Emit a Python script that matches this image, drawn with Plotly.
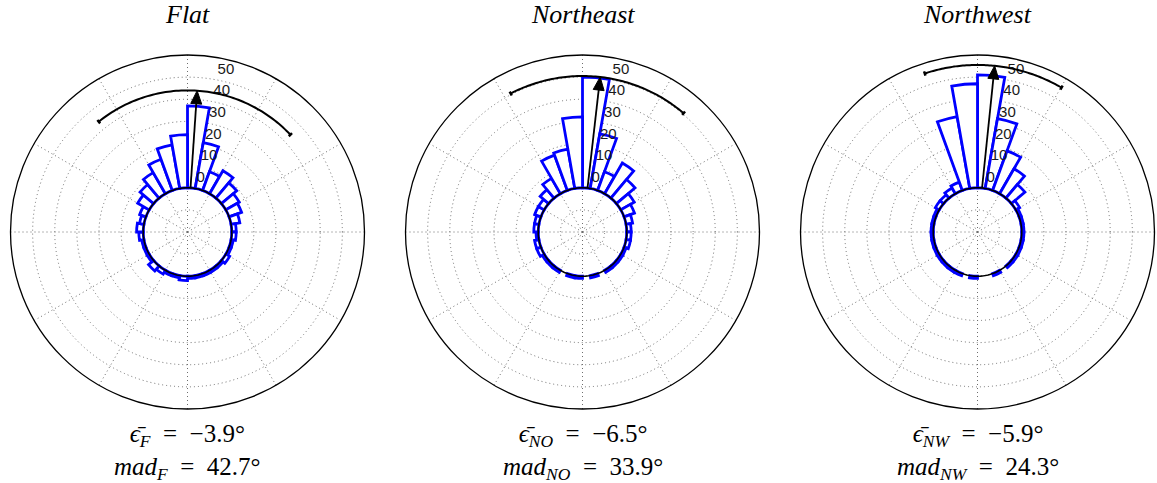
import math
import plotly.graph_objects as go

# ---------------- data ----------------
bin_centers = [5 + 10 * i for i in range(36)]  # compass degrees, clockwise from north
bin_width = 10

flat_counts = [37, 21, 9, 12, 9, 7, 6, 4, 2, 2, 1, 1, 2, 1, 1, 1, 1, 1,
               2, 1, 1, 2, 3, 1, 1, 1, 2, 3, 2, 3, 6, 8, 11, 15, 20, 24]
northeast_counts = [50, 25, 9, 16, 11, 7, 5, 3, 2, 2, 2, 1, 1, 1, 1, 0, 1, 0,
                    1, 1, 0, 1, 1, 1, 2, 2, 1, 2, 2, 3, 3, 5, 8, 17, 18, 32]
northwest_counts = [51, 32, 19, 13, 8, 2, 1, 1, 1, 1, 1, 1, 1, 1, 0, 1, 0, 0,
                    1, 0, 1, 1, 1, 1, 1, 1, 1, 1, 1, 1, 2, 2, 3, 4, 33, 47]

panel_titles = ["Flat", "Northeast", "Northwest"]
panel_subs = ["F", "NO", "NW"]
mean_error = [-3.9, -6.5, -5.9]      # degrees
mad_error = [42.7, 33.9, 24.3]       # degrees
arrow_length = [44, 50.5, 55.5]      # radial units

radial_tick_values = [0, 10, 20, 30, 40, 50]
radial_tick_text = ["0", "10", "20", "30", "40", "50"]

all_counts = [flat_counts, northeast_counts, northwest_counts]

# ---------------- layout geometry ----------------
W, H = 1157, 483
centers_x = [187.5, 582.5, 977.5]
center_y = 232
R = 177
R_MIN, R_MAX = -20, 60
px_per_unit = R / (R_MAX - R_MIN)
zero_px = -R_MIN * px_per_unit

fig = go.Figure()
blue = "#0000ff"
grid_col = "#6e6e6e"
serif = "Liberation Serif, Times New Roman, serif"
sp_eq = "\u2002=\u2002"

for k in range(3):
    sp = "polar" if k == 0 else f"polar{k+1}"
    counts = all_counts[k]
    theta_mean = -mean_error[k]   # plotted clockwise
    L = arrow_length[k]

    # inner zero circle
    circ_theta = list(range(0, 361, 2))
    fig.add_trace(go.Scatterpolar(
        r=[0] * len(circ_theta), theta=circ_theta, mode="lines",
        line=dict(color="black", width=1.6), subplot=sp, showlegend=False,
        hoverinfo="skip"))

    # rose bars
    fig.add_trace(go.Barpolar(
        r=counts, theta=bin_centers, width=[bin_width] * len(bin_centers),
        base=0, subplot=sp, showlegend=False,
        marker=dict(color="white", line=dict(color=blue, width=2.8))))

    # radial tick labels
    fig.add_trace(go.Scatterpolar(
        r=[v + 1.2 for v in radial_tick_values], theta=[11] * len(radial_tick_values),
        mode="text", text=radial_tick_text, textposition="top right",
        textfont=dict(family="Liberation Sans, Arial, sans-serif", size=15, color="#1a1a1a"),
        subplot=sp, showlegend=False, hoverinfo="skip"))

    # dispersion arc
    a0 = theta_mean - mad_error[k]
    a1 = theta_mean + mad_error[k]
    n = 80
    arc_t = [a0 + (a1 - a0) * i / n for i in range(n + 1)]
    fig.add_trace(go.Scatterpolar(
        r=[L] * len(arc_t), theta=arc_t, mode="lines",
        line=dict(color="black", width=2), subplot=sp, showlegend=False,
        hoverinfo="skip"))
    for a in (a0, a1):
        fig.add_trace(go.Scatterpolar(
            r=[L - 1.0, L + 1.0], theta=[a, a], mode="lines",
            line=dict(color="black", width=2.5), subplot=sp, showlegend=False,
            hoverinfo="skip"))

    # mean arrow
    head_len = 13 / px_per_unit
    head_r_px = zero_px + (L - head_len) * px_per_unit
    half_w = math.degrees(5.5 / head_r_px)
    fig.add_trace(go.Scatterpolar(
        r=[0, L - head_len + 0.5], theta=[theta_mean, theta_mean], mode="lines",
        line=dict(color="black", width=1.8), subplot=sp, showlegend=False,
        hoverinfo="skip"))
    fig.add_trace(go.Scatterpolar(
        r=[L, L - head_len, L - head_len, L],
        theta=[theta_mean, theta_mean - half_w, theta_mean + half_w, theta_mean],
        mode="lines", fill="toself", fillcolor="black",
        line=dict(color="black", width=1), subplot=sp, showlegend=False,
        hoverinfo="skip"))

    cx = centers_x[k]
    fig.update_layout(**{sp: dict(
        domain=dict(x=[(cx - R) / W, (cx + R) / W],
                    y=[(H - (center_y + R)) / H, (H - (center_y - R)) / H]),
        bgcolor="white",
        radialaxis=dict(range=[R_MIN, R_MAX],
                        tickmode="array", tickvals=[-10, 0, 10, 20, 30, 40, 50, 60],
                        showticklabels=False, ticks="", showline=False,
                        gridcolor=grid_col, griddash="1px,3px", gridwidth=1,
                        layer="below traces"),
        angularaxis=dict(rotation=90, direction="clockwise",
                         tickmode="linear", tick0=0, dtick=30,
                         showticklabels=False, ticks="",
                         showline=True, linecolor="black", linewidth=1.3,
                         gridcolor=grid_col, griddash="1px,3px", gridwidth=1,
                         layer="below traces"),
    )})

    # titles and statistics
    fig.add_annotation(x=cx / W, y=1 - 14 / H, xref="paper", yref="paper",
                       text=f"<i>{panel_titles[k]}</i>", showarrow=False,
                       font=dict(family=serif, size=26, color="black"),
                       xanchor="center", yanchor="middle")
    sub = panel_subs[k]
    line1 = (f"<i>\u03f5\u0304</i><sub><i>{sub}</i></sub>{sp_eq}"
             f"\u2212{abs(mean_error[k]):.1f}\u00b0")
    line2 = f"<i>mad</i><sub><i>{sub}</i></sub>{sp_eq}{mad_error[k]:.1f}\u00b0"
    fig.add_annotation(x=cx / W, y=1 - 452 / H, xref="paper", yref="paper",
                       text=line1 + "<br>" + line2, showarrow=False,
                       font=dict(family=serif, size=25, color="black"),
                       align="center", xanchor="center", yanchor="middle")

fig.update_layout(width=W, height=H, margin=dict(l=0, r=0, t=0, b=0),
                  paper_bgcolor="white", plot_bgcolor="white",
                  showlegend=False)

fig.write_html("out.html", config={"displayModeBar": False},
               post_script="document.body.style.margin='0';")
